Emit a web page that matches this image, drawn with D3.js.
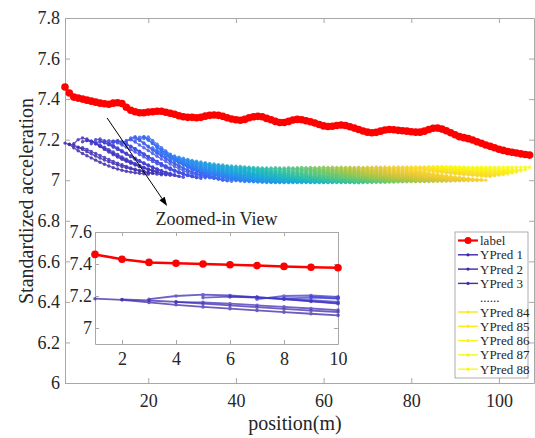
<!DOCTYPE html>
<html>
<head>
<meta charset="utf-8">
<script src="https://cdn.jsdelivr.net/npm/d3@7"></script>
<style>
  html, body { margin: 0; padding: 0; background: #fff; }
  svg { display: block; font-family: "Liberation Serif", "Times New Roman", serif; }
</style>
</head>
<body>
<svg id="chart" width="535" height="438"></svg>
<script>
// Measured (standardized) acceleration along the track, positions 1..107
const labelValues = [
  7.460, 7.430, 7.410, 7.405, 7.400, 7.395, 7.390, 7.385, 7.380, 7.377,
  7.375, 7.380, 7.382, 7.378, 7.360, 7.345, 7.338, 7.333, 7.333, 7.336,
  7.338, 7.340, 7.340, 7.335, 7.330, 7.325, 7.318, 7.313, 7.310, 7.310,
  7.308, 7.310, 7.316, 7.320, 7.322, 7.320, 7.315, 7.308, 7.302, 7.298,
  7.296, 7.300, 7.308, 7.313, 7.315, 7.313, 7.305, 7.298, 7.290, 7.285,
  7.285, 7.290, 7.297, 7.300, 7.298, 7.293, 7.288, 7.282, 7.275, 7.268,
  7.265, 7.266, 7.270, 7.272, 7.270, 7.264, 7.257, 7.250, 7.243, 7.237,
  7.234, 7.236, 7.242, 7.248, 7.250, 7.249, 7.246, 7.244, 7.242, 7.239,
  7.237, 7.237, 7.242, 7.250, 7.256, 7.257, 7.252, 7.244, 7.234, 7.224,
  7.215, 7.210, 7.205, 7.198, 7.190, 7.182, 7.174, 7.167, 7.160, 7.153,
  7.147, 7.142, 7.138, 7.134, 7.130, 7.127, 7.124
];

// 20-step predictions; prediction n starts at position n
const predictions = [
  [7.183,7.176,7.160,7.145,7.132,7.121,7.110,7.099,7.089,7.079,7.070,7.062,7.055,7.049,7.044,7.040,7.037,7.034,7.032,7.030],
  [7.178,7.172,7.163,7.152,7.141,7.130,7.119,7.109,7.100,7.091,7.083,7.075,7.068,7.062,7.056,7.051,7.046,7.042,7.038,7.035],
  [7.180,7.200,7.208,7.203,7.193,7.180,7.166,7.152,7.139,7.126,7.114,7.103,7.093,7.084,7.075,7.067,7.060,7.053,7.047,7.042],
  [7.162,7.160,7.152,7.142,7.132,7.122,7.112,7.102,7.093,7.084,7.076,7.068,7.061,7.054,7.048,7.043,7.038,7.034,7.030,7.027],
  [7.190,7.196,7.190,7.180,7.168,7.156,7.144,7.132,7.120,7.109,7.098,7.088,7.078,7.069,7.061,7.053,7.046,7.039,7.033,7.027],
  [7.196,7.192,7.184,7.174,7.163,7.151,7.139,7.127,7.115,7.104,7.093,7.083,7.073,7.064,7.056,7.048,7.041,7.035,7.029,7.024],
  [7.180,7.200,7.203,7.195,7.184,7.172,7.159,7.146,7.133,7.120,7.108,7.096,7.085,7.075,7.065,7.056,7.048,7.040,7.033,7.027],
  [7.185,7.190,7.184,7.175,7.164,7.152,7.140,7.128,7.116,7.104,7.093,7.082,7.072,7.062,7.053,7.045,7.037,7.030,7.024,7.019],
  [7.196,7.186,7.176,7.165,7.154,7.142,7.130,7.118,7.106,7.095,7.084,7.073,7.063,7.054,7.045,7.037,7.030,7.024,7.019,7.015],
  [7.190,7.195,7.192,7.184,7.174,7.163,7.151,7.139,7.127,7.115,7.103,7.092,7.081,7.071,7.061,7.052,7.044,7.036,7.029,7.023],
  [7.178,7.192,7.196,7.190,7.180,7.168,7.156,7.143,7.130,7.117,7.105,7.093,7.081,7.070,7.060,7.050,7.041,7.033,7.026,7.020],
  [7.185,7.193,7.188,7.178,7.166,7.154,7.141,7.128,7.115,7.103,7.091,7.079,7.068,7.058,7.048,7.039,7.031,7.024,7.018,7.013],
  [7.190,7.185,7.176,7.165,7.153,7.141,7.128,7.116,7.104,7.092,7.080,7.069,7.058,7.048,7.039,7.031,7.024,7.018,7.013,7.009],
  [7.182,7.196,7.200,7.188,7.174,7.160,7.146,7.132,7.118,7.105,7.092,7.080,7.068,7.057,7.047,7.038,7.030,7.023,7.017,7.012],
  [7.190,7.208,7.215,7.200,7.184,7.168,7.152,7.137,7.123,7.109,7.096,7.084,7.072,7.061,7.051,7.042,7.034,7.027,7.021,7.016],
  [7.200,7.210,7.196,7.180,7.164,7.148,7.133,7.119,7.105,7.092,7.080,7.068,7.057,7.047,7.038,7.030,7.023,7.017,7.012,7.008],
  [7.195,7.212,7.215,7.199,7.182,7.165,7.149,7.134,7.119,7.105,7.092,7.079,7.067,7.056,7.046,7.037,7.029,7.021,7.014,7.008],
  [7.200,7.214,7.198,7.181,7.164,7.148,7.132,7.117,7.103,7.089,7.076,7.064,7.053,7.043,7.034,7.026,7.018,7.011,7.005,7.000],
  [7.205,7.213,7.196,7.178,7.161,7.144,7.128,7.113,7.099,7.085,7.072,7.060,7.049,7.039,7.030,7.022,7.015,7.008,7.002,6.997],
  [7.200,7.182,7.165,7.149,7.134,7.120,7.106,7.093,7.081,7.069,7.058,7.048,7.039,7.031,7.023,7.016,7.010,7.004,6.999,6.995],
  [7.160,7.145,7.132,7.119,7.107,7.095,7.085,7.075,7.066,7.058,7.051,7.043,7.037,7.030,7.025,7.019,7.013,7.008,7.003,6.998],
  [7.150,7.136,7.123,7.111,7.099,7.088,7.078,7.069,7.061,7.053,7.046,7.039,7.033,7.027,7.021,7.016,7.011,7.005,7.001,6.996],
  [7.141,7.128,7.115,7.104,7.092,7.082,7.073,7.064,7.056,7.048,7.042,7.035,7.029,7.023,7.018,7.013,7.008,7.003,6.998,6.994],
  [7.133,7.120,7.108,7.097,7.087,7.077,7.068,7.059,7.052,7.045,7.038,7.032,7.027,7.021,7.016,7.011,7.006,7.001,6.997,6.993],
  [7.126,7.114,7.103,7.092,7.082,7.072,7.064,7.056,7.048,7.042,7.036,7.030,7.024,7.019,7.014,7.009,7.005,7.000,6.996,6.992],
  [7.120,7.108,7.097,7.087,7.077,7.068,7.060,7.052,7.045,7.039,7.033,7.027,7.022,7.017,7.012,7.008,7.003,6.999,6.995,6.991],
  [7.114,7.103,7.092,7.082,7.073,7.064,7.056,7.049,7.042,7.036,7.030,7.025,7.020,7.015,7.010,7.006,7.002,6.997,6.994,6.990],
  [7.108,7.097,7.087,7.078,7.069,7.060,7.053,7.046,7.039,7.033,7.028,7.022,7.018,7.013,7.009,7.004,7.000,6.996,6.993,6.989],
  [7.103,7.093,7.083,7.074,7.065,7.057,7.050,7.043,7.037,7.031,7.026,7.021,7.016,7.012,7.008,7.004,7.000,6.996,6.992,6.989],
  [7.098,7.088,7.079,7.070,7.062,7.054,7.047,7.040,7.034,7.029,7.024,7.019,7.014,7.010,7.006,7.002,6.998,6.995,6.991,6.988],
  [7.094,7.084,7.075,7.067,7.059,7.052,7.045,7.038,7.033,7.027,7.022,7.018,7.013,7.009,7.005,7.002,6.998,6.994,6.991,6.988],
  [7.090,7.081,7.072,7.064,7.056,7.049,7.043,7.036,7.031,7.026,7.021,7.017,7.012,7.008,7.005,7.001,6.998,6.994,6.991,6.988],
  [7.086,7.077,7.069,7.061,7.054,7.047,7.040,7.035,7.029,7.024,7.020,7.015,7.012,7.008,7.004,7.001,6.997,6.994,6.991,6.988],
  [7.083,7.074,7.066,7.059,7.052,7.045,7.039,7.033,7.028,7.023,7.019,7.015,7.011,7.007,7.004,7.000,6.997,6.994,6.991,6.988],
  [7.080,7.072,7.064,7.057,7.050,7.043,7.037,7.032,7.027,7.022,7.018,7.014,7.010,7.006,7.003,7.000,6.997,6.994,6.991,6.988],
  [7.077,7.069,7.061,7.054,7.048,7.041,7.036,7.030,7.025,7.021,7.017,7.013,7.009,7.006,7.003,7.000,6.996,6.993,6.991,6.988],
  [7.075,7.067,7.060,7.053,7.047,7.041,7.035,7.030,7.025,7.021,7.017,7.013,7.010,7.006,7.003,7.000,6.997,6.994,6.992,6.989],
  [7.072,7.064,7.057,7.051,7.044,7.038,7.033,7.028,7.023,7.019,7.015,7.012,7.008,7.005,7.002,6.999,6.996,6.993,6.991,6.988],
  [7.070,7.063,7.056,7.049,7.043,7.037,7.032,7.027,7.022,7.018,7.015,7.011,7.008,7.004,7.002,6.999,6.996,6.993,6.990,6.988],
  [7.069,7.062,7.055,7.048,7.042,7.037,7.031,7.026,7.022,7.018,7.014,7.011,7.007,7.004,7.001,6.999,6.996,6.993,6.990,6.988],
  [7.068,7.061,7.054,7.048,7.042,7.036,7.031,7.026,7.022,7.018,7.014,7.010,7.007,7.004,7.001,6.998,6.996,6.993,6.990,6.988],
  [7.066,7.059,7.052,7.046,7.040,7.035,7.030,7.025,7.021,7.017,7.013,7.010,7.007,7.004,7.001,6.998,6.995,6.993,6.990,6.988],
  [7.064,7.057,7.051,7.045,7.039,7.034,7.029,7.024,7.020,7.016,7.013,7.009,7.006,7.003,7.001,6.998,6.995,6.993,6.990,6.988],
  [7.063,7.056,7.050,7.044,7.039,7.033,7.029,7.024,7.020,7.016,7.013,7.010,7.007,7.004,7.001,6.999,6.996,6.993,6.991,6.989],
  [7.062,7.055,7.049,7.043,7.038,7.032,7.028,7.023,7.019,7.015,7.012,7.009,7.006,7.003,7.000,6.998,6.995,6.993,6.990,6.988],
  [7.061,7.055,7.048,7.043,7.037,7.032,7.028,7.023,7.019,7.016,7.012,7.009,7.006,7.003,7.001,6.998,6.996,6.993,6.991,6.989],
  [7.060,7.054,7.047,7.042,7.036,7.031,7.027,7.022,7.018,7.015,7.011,7.008,7.005,7.002,7.000,6.997,6.995,6.992,6.990,6.988],
  [7.061,7.054,7.048,7.042,7.037,7.032,7.027,7.023,7.019,7.015,7.012,7.008,7.005,7.003,7.000,6.998,6.995,6.993,6.990,6.988],
  [7.062,7.055,7.049,7.043,7.037,7.032,7.027,7.023,7.019,7.015,7.011,7.008,7.005,7.002,6.999,6.997,6.994,6.992,6.989,6.987],
  [7.060,7.053,7.047,7.041,7.036,7.031,7.026,7.022,7.018,7.014,7.011,7.008,7.005,7.002,7.000,6.997,6.995,6.992,6.990,6.988],
  [7.061,7.055,7.048,7.043,7.037,7.032,7.028,7.023,7.019,7.016,7.012,7.009,7.006,7.003,7.001,6.998,6.996,6.993,6.991,6.989],
  [7.062,7.056,7.049,7.043,7.038,7.033,7.028,7.024,7.020,7.016,7.012,7.009,7.006,7.003,7.001,6.998,6.996,6.993,6.991,6.989],
  [7.061,7.055,7.049,7.043,7.038,7.033,7.028,7.024,7.020,7.016,7.013,7.010,7.007,7.004,7.002,6.999,6.997,6.994,6.992,6.990],
  [7.062,7.056,7.049,7.044,7.038,7.033,7.029,7.024,7.020,7.017,7.013,7.010,7.007,7.004,7.002,6.999,6.997,6.994,6.992,6.990],
  [7.063,7.057,7.050,7.044,7.039,7.034,7.029,7.025,7.021,7.017,7.013,7.010,7.007,7.005,7.002,6.999,6.997,6.994,6.992,6.990],
  [7.062,7.056,7.050,7.044,7.039,7.034,7.029,7.025,7.021,7.017,7.014,7.011,7.008,7.005,7.003,7.000,6.998,6.995,6.993,6.991],
  [7.063,7.057,7.050,7.045,7.039,7.034,7.030,7.025,7.021,7.018,7.014,7.011,7.008,7.005,7.003,7.000,6.998,6.995,6.993,6.991],
  [7.062,7.056,7.050,7.044,7.039,7.034,7.030,7.025,7.021,7.018,7.015,7.012,7.009,7.006,7.004,7.001,6.999,6.996,6.994,6.992],
  [7.063,7.057,7.051,7.045,7.040,7.035,7.030,7.026,7.022,7.018,7.015,7.012,7.009,7.006,7.004,7.001,6.999,6.996,6.994,6.992],
  [7.064,7.058,7.051,7.046,7.040,7.035,7.031,7.026,7.022,7.019,7.015,7.012,7.009,7.006,7.004,7.001,6.999,6.996,6.994,6.992],
  [7.063,7.057,7.051,7.045,7.040,7.035,7.031,7.026,7.022,7.019,7.016,7.013,7.010,7.007,7.005,7.002,7.000,6.997,6.995,6.993],
  [7.064,7.058,7.052,7.046,7.041,7.036,7.031,7.027,7.023,7.019,7.016,7.013,7.010,7.007,7.005,7.002,7.000,6.997,6.995,6.993],
  [7.063,7.057,7.051,7.046,7.040,7.035,7.031,7.026,7.023,7.019,7.016,7.013,7.010,7.007,7.005,7.002,7.000,6.997,6.995,6.993],
  [7.064,7.058,7.052,7.046,7.041,7.036,7.032,7.027,7.023,7.020,7.017,7.014,7.011,7.008,7.006,7.003,7.001,6.998,6.996,6.994],
  [7.063,7.057,7.050,7.045,7.040,7.035,7.030,7.026,7.022,7.019,7.016,7.013,7.010,7.007,7.005,7.002,7.000,6.997,6.995,6.993],
  [7.064,7.058,7.052,7.047,7.041,7.036,7.032,7.028,7.024,7.020,7.017,7.014,7.011,7.008,7.006,7.003,7.001,6.998,6.996,6.994],
  [7.063,7.057,7.051,7.046,7.041,7.036,7.031,7.027,7.024,7.020,7.017,7.014,7.012,7.009,7.006,7.004,7.002,6.999,6.997,6.995],
  [7.064,7.058,7.052,7.047,7.042,7.037,7.032,7.028,7.024,7.021,7.018,7.015,7.012,7.009,7.007,7.004,7.002,6.999,6.997,6.995],
  [7.063,7.057,7.051,7.046,7.041,7.036,7.032,7.028,7.024,7.021,7.018,7.015,7.012,7.010,7.007,7.005,7.002,7.000,6.998,6.996],
  [7.064,7.058,7.052,7.047,7.042,7.037,7.032,7.028,7.025,7.021,7.018,7.015,7.012,7.010,7.007,7.005,7.003,7.000,6.998,6.996],
  [7.064,7.058,7.052,7.047,7.042,7.037,7.033,7.029,7.025,7.022,7.019,7.016,7.013,7.010,7.008,7.006,7.003,7.001,6.999,6.997],
  [7.065,7.059,7.053,7.048,7.043,7.038,7.033,7.029,7.026,7.022,7.019,7.016,7.013,7.011,7.008,7.006,7.003,7.001,6.999,6.997],
  [7.064,7.058,7.052,7.047,7.042,7.038,7.033,7.029,7.026,7.022,7.019,7.016,7.014,7.011,7.009,7.006,7.004,7.002,7.000,6.998],
  [7.065,7.059,7.053,7.048,7.043,7.038,7.034,7.030,7.026,7.023,7.020,7.017,7.014,7.011,7.009,7.007,7.004,7.002,7.000,6.998],
  [7.064,7.058,7.053,7.047,7.043,7.038,7.034,7.030,7.026,7.023,7.020,7.017,7.014,7.012,7.010,7.007,7.005,7.003,7.001,6.999],
  [7.065,7.059,7.053,7.048,7.043,7.039,7.034,7.030,7.027,7.023,7.020,7.017,7.015,7.012,7.010,7.007,7.005,7.003,7.001,6.999],
  [7.065,7.059,7.054,7.048,7.044,7.039,7.035,7.031,7.027,7.024,7.021,7.018,7.015,7.013,7.011,7.008,7.006,7.004,7.002,7.000],
  [7.066,7.060,7.054,7.049,7.044,7.040,7.035,7.031,7.028,7.024,7.021,7.018,7.016,7.013,7.011,7.008,7.006,7.004,7.002,7.000],
  [7.065,7.061,7.057,7.053,7.049,7.046,7.043,7.040,7.038,7.035,7.033,7.031,7.029,7.027,7.026,7.024,7.022,7.021,7.019,7.018],
  [7.065,7.061,7.057,7.054,7.051,7.048,7.045,7.042,7.040,7.038,7.036,7.034,7.032,7.031,7.029,7.028,7.026,7.025,7.023,7.022],
  [7.066,7.062,7.059,7.056,7.052,7.050,7.047,7.044,7.042,7.040,7.038,7.036,7.035,7.033,7.032,7.030,7.029,7.027,7.026,7.025],
  [7.066,7.063,7.059,7.056,7.053,7.051,7.048,7.046,7.044,7.042,7.040,7.039,7.037,7.036,7.034,7.033,7.032,7.030,7.029,7.028],
  [7.066,7.063,7.060,7.057,7.055,7.052,7.050,7.048,7.046,7.045,7.043,7.042,7.040,7.039,7.038,7.036,7.035,7.034,7.033,7.032],
  [7.067,7.064,7.062,7.059,7.057,7.055,7.053,7.051,7.049,7.047,7.046,7.045,7.043,7.042,7.041,7.040,7.039,7.038,7.037,7.036],
  [7.067,7.065,7.062,7.060,7.058,7.056,7.054,7.053,7.051,7.050,7.049,7.048,7.046,7.045,7.044,7.044,7.043,7.042,7.041,7.040],
  [7.067,7.065,7.063,7.062,7.060,7.059,7.057,7.056,7.055,7.054,7.053,7.052,7.051,7.050,7.049,7.049,7.048,7.047,7.047,7.046],
  [7.067,7.066,7.065,7.063,7.062,7.061,7.060,7.060,7.059,7.058,7.058,7.057,7.056,7.056,7.055,7.055,7.054,7.054,7.053,7.053],
  [7.066,7.066,7.065,7.065,7.065,7.064,7.064,7.064,7.064,7.064,7.064,7.064,7.064,7.064,7.064,7.064,7.064,7.064,7.064,7.064]
];

const xTicks = [20, 40, 60, 80, 100];
const yTicks = [6, 6.2, 6.4, 6.6, 6.8, 7, 7.2, 7.4, 7.6, 7.8];
const insetXTicks = [2, 4, 6, 8, 10];
const insetYTicks = [7, 7.2, 7.4, 7.6];
const insetLastPosition = 10;
const legendEntries = ["label", "YPred 1", "YPred 2", "YPred 3", "......",
                       "YPred 84", "YPred 85", "YPred 86", "YPred 87", "YPred 88"];
const legendSeries = [null, 0, 1, 2, -1, 83, 84, 85, 86, 87]; // -1: ellipsis row

// parula-like colormap
const parula = d3.interpolateRgbBasis([
  "rgb(62,38,168)", "rgb(72,82,244)", "rgb(46,135,247)", "rgb(18,177,214)",
  "rgb(55,200,151)", "rgb(171,199,57)", "rgb(254,195,56)", "rgb(249,251,14)"
]);
const nPred = predictions.length;
const predColor = i => parula(i / (nPred - 1));

const RED = "#ff0000";
const AXIS = "#a8a8a8";
const TEXT = "#262626";
const fmt = d => String(+d.toFixed(1));

const svg = d3.select("#chart");

// ---------- main axes ----------
const plot = { left: 65, right: 534, top: 18, bottom: 383 };
const x = d3.scaleLinear().domain([1, 108]).range([plot.left, plot.right]);
const y = d3.scaleLinear().domain([6, 7.8]).range([plot.bottom, plot.top]);

function styleAxis(g, fontSize) {
  g.select(".domain").attr("stroke", AXIS).attr("stroke-width", 1);
  g.selectAll(".tick line").attr("stroke", AXIS).attr("stroke-width", 1);
  g.selectAll(".tick text").attr("fill", TEXT).style("font-size", fontSize + "px")
    .style("font-family", '"Liberation Serif", "Times New Roman", serif');
}

function drawFrame(g, xs, ys, xt, yt, box, tick, fs, padX, padY) {
  g.append("rect").attr("x", box.left).attr("y", box.top)
    .attr("width", box.right - box.left).attr("height", box.bottom - box.top)
    .attr("fill", "#fff");
  g.append("g").attr("transform", `translate(0,${box.bottom})`)
    .call(d3.axisBottom(xs).tickValues(xt).tickFormat(fmt).tickSizeInner(-tick).tickSizeOuter(0).tickPadding(padX))
    .call(a => styleAxis(a, fs));
  g.append("g").attr("transform", `translate(0,${box.top})`)
    .call(d3.axisTop(xs).tickValues(xt).tickFormat(() => "").tickSizeInner(-tick).tickSizeOuter(0))
    .call(a => styleAxis(a, fs));
  g.append("g").attr("transform", `translate(${box.left},0)`)
    .call(d3.axisLeft(ys).tickValues(yt).tickFormat(fmt).tickSizeInner(-tick).tickSizeOuter(0).tickPadding(padY))
    .call(a => styleAxis(a, fs));
  g.append("g").attr("transform", `translate(${box.right},0)`)
    .call(d3.axisRight(ys).tickValues(yt).tickFormat(() => "").tickSizeInner(-tick).tickSizeOuter(0))
    .call(a => styleAxis(a, fs));
}

const mainG = svg.append("g");
drawFrame(mainG, x, y, xTicks, yTicks, plot, 5, 18, 11, 5);

// axis titles
svg.append("text").attr("x", 295).attr("y", 430).attr("text-anchor", "middle")
  .attr("fill", TEXT).style("font-size", "20px").text("position(m)");
svg.append("text").attr("transform", "translate(33,201) rotate(-90)")
  .attr("text-anchor", "middle").attr("fill", TEXT).style("font-size", "20px")
  .text("Standardized acceleration");

// ---------- series ----------
const predPoints = predictions.map((vals, i) => vals.map((v, k) => [i + 1 + k, v]));
const labelPoints = labelValues.map((v, i) => [i + 1, v]);

function drawSeries(g, xs, ys, opts) {
  const line = d3.line().x(d => xs(d[0])).y(d => ys(d[1]));
  const pg = g.append("g");
  opts.preds.forEach((pts, i) => {
    const c = predColor(i);
    const s = pg.append("g").attr("opacity", opts.predOpacity);
    s.append("path").attr("d", line(pts)).attr("fill", "none")
      .attr("stroke", c).attr("stroke-width", opts.predWidth);
    s.selectAll("circle").data(pts).join("circle")
      .attr("cx", d => xs(d[0])).attr("cy", d => ys(d[1]))
      .attr("r", opts.predR).attr("fill", c);
  });
  const lg = g.append("g");
  lg.append("path").attr("d", line(opts.label)).attr("fill", "none")
    .attr("stroke", RED).attr("stroke-width", opts.labelWidth);
  lg.selectAll("circle").data(opts.label).join("circle")
    .attr("cx", d => xs(d[0])).attr("cy", d => ys(d[1]))
    .attr("r", opts.labelR).attr("fill", RED);
}

drawSeries(mainG, x, y, {
  preds: predPoints, label: labelPoints,
  predWidth: 1.2, predR: 1.7, predOpacity: 0.85,
  labelWidth: 2, labelR: 3.8
});

// ---------- annotation arrow ----------
const arrowFrom = [10.6, 7.307];
const arrowTo = [24.3, 6.873];
{
  const x1 = x(arrowFrom[0]), y1 = y(arrowFrom[1]);
  const x2 = x(arrowTo[0]), y2 = y(arrowTo[1]);
  const ang = Math.atan2(y2 - y1, x2 - x1);
  const L = 9, Wd = 3.2;
  const bx = x2 - L * Math.cos(ang), by = y2 - L * Math.sin(ang);
  svg.append("line").attr("x1", x1).attr("y1", y1).attr("x2", bx).attr("y2", by)
    .attr("stroke", "#000").attr("stroke-width", 1);
  const p1 = [bx + Wd * Math.sin(ang), by - Wd * Math.cos(ang)];
  const p2 = [bx - Wd * Math.sin(ang), by + Wd * Math.cos(ang)];
  svg.append("path").attr("d", `M${x2},${y2}L${p1[0]},${p1[1]}L${p2[0]},${p2[1]}Z`)
    .attr("fill", "#000");
}

// ---------- inset ----------
const ibox = { left: 95, right: 338, top: 232, bottom: 344 };
const ix = d3.scaleLinear().domain([1, 10]).range([ibox.left, ibox.right]);
const iy = d3.scaleLinear().domain([6.9, 7.6]).range([ibox.bottom, ibox.top]);
const insetG = svg.append("g");
drawFrame(insetG, ix, iy, insetXTicks, insetYTicks, ibox, 4, 18, 8, 3);

insetG.append("text").attr("x", (ibox.left + ibox.right) / 2).attr("y", 225)
  .attr("text-anchor", "middle").attr("fill", TEXT).style("font-size", "18px")
  .text("Zoomed-in View");

const insetPreds = predPoints
  .map(pts => pts.filter(d => d[0] <= insetLastPosition))
  .filter(pts => pts.length > 0);
drawSeries(insetG, ix, iy, {
  preds: insetPreds, label: labelPoints.filter(d => d[0] <= insetLastPosition),
  predWidth: 1.8, predR: 1.8, predOpacity: 0.75,
  labelWidth: 2.5, labelR: 3.8
});

// ---------- legend ----------
const leg = svg.append("g");
const lb = { x: 455, y: 232, w: 73, h: 146 };
leg.append("rect").attr("x", lb.x).attr("y", lb.y).attr("width", lb.w).attr("height", lb.h)
  .attr("fill", "#fff").attr("stroke", "#9a9a9a").attr("stroke-width", 0.8);
legendEntries.forEach((name, i) => {
  const ry = lb.y + 8.5 + i * 14.3;
  const si = legendSeries[i];
  if (si !== -1) {
    const c = si === null ? RED : predColor(si);
    leg.append("line").attr("x1", lb.x + 3).attr("x2", lb.x + 23).attr("y1", ry).attr("y2", ry)
      .attr("stroke", c).attr("stroke-width", si === null ? 2.2 : 1.4);
    leg.append("circle").attr("cx", lb.x + 13).attr("cy", ry)
      .attr("r", si === null ? 3.5 : 1.6).attr("fill", c);
  }
  leg.append("text").attr("x", lb.x + 25).attr("y", ry).attr("dy", "0.35em")
    .attr("fill", TEXT).style("font-size", "13px").text(name);
});
</script>
</body>
</html>
